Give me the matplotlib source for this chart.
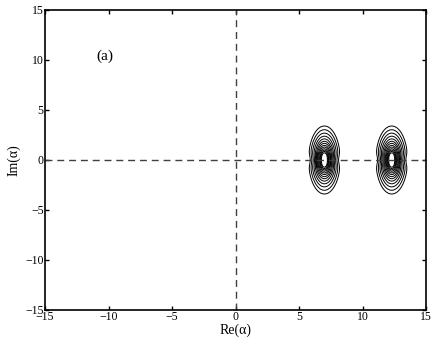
import numpy as np
import matplotlib
matplotlib.use('Agg')
import matplotlib.pyplot as plt

plt.rcParams['font.family'] = ['Liberation Serif', 'DejaVu Serif']

# peak centres on the real axis, and half widths of the outer contour
centres = [7.0, 12.3]
half_w_x = [1.25, 1.25]
half_w_y = [3.4, 3.4]
# contour "radii" (fraction of the outer contour), outer -> inner
radii = [1.0, 0.89, 0.79, 0.70, 0.62, 0.55, 0.49, 0.43, 0.38, 0.33, 0.29, 0.25, 0.21]
waist = 0.12      # slight narrowing along Re near Im = 0
waist_size = 0.6

x = np.linspace(-15, 15, 2000)
y = np.linspace(-15, 15, 1600)
X, Y = np.meshgrid(x, y)

fig = plt.figure(figsize=(4.36, 3.43), dpi=100)
ax = fig.add_axes([45/436, 1-310/343, 381/436, 300/343])

levels = np.sort(np.exp(-np.array(radii)**2))
for cx, wx, wy in zip(centres, half_w_x, half_w_y):
    sx = (X - cx) / wx * (1 + waist*np.exp(-(Y/waist_size)**2))
    Z = np.exp(-(sx**2 + (Y/wy)**2))
    ax.contour(X, Y, Z, levels=levels, colors='k', linewidths=0.7)

ax.axhline(0, color='#404040', ls=(0, (5, 3.5)), lw=1)
ax.axvline(0, color='#404040', ls=(0, (5, 3.5)), lw=1)

ax.text(-10.3, 10.4, '(a)', fontsize=11, ha='center', va='center')
ax.set_xlim(-15, 15)
ax.set_ylim(-15, 15)
ax.set_xticks(range(-15, 16, 5))
ax.set_yticks(range(-15, 16, 5))
ax.set_xticklabels(['\u221215', '\u221210', '\u22125', '0', '5', '10', '15'])
ax.set_yticklabels(['\u221215', '\u221210', '\u22125', '0', '5', '10', '15'])
ax.tick_params(direction='in', length=3, width=1, labelsize=8.5, top=True, right=True, pad=1)
for s in ax.spines.values():
    s.set_linewidth(1.2)
ax.set_xlabel('Re(\u03b1)', fontsize=10, labelpad=0)
ax.set_ylabel('Im(\u03b1)', fontsize=10, labelpad=3)

fig.savefig('out.png', dpi=100)
